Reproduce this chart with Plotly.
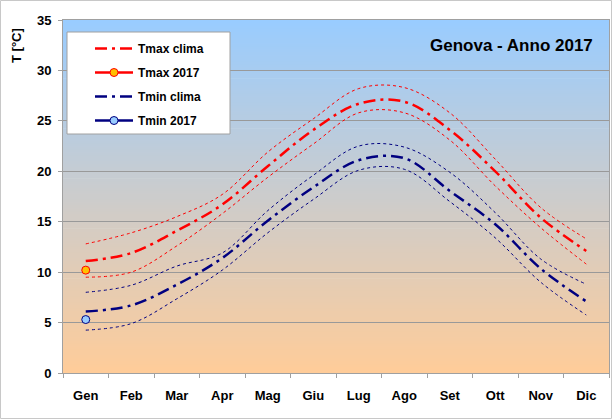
import plotly.graph_objects as go

months = ["Gen", "Feb", "Mar", "Apr", "Mag", "Giu", "Lug", "Ago", "Set", "Ott", "Nov", "Dic"]

tmax_clima = [11.1, 11.9, 14.1, 16.7, 20.5, 24.1, 26.7, 26.9, 24.1, 20.0, 15.4, 12.1]
tmax_clima_up = [12.8, 13.9, 15.5, 17.7, 21.9, 25.2, 28.2, 28.3, 25.8, 21.2, 16.4, 13.3]
tmax_clima_lo = [9.5, 10.0, 12.6, 15.8, 19.4, 22.7, 25.8, 25.8, 23.1, 18.55, 14.4, 10.8]

tmin_clima = [6.1, 6.7, 8.75, 11.4, 15.1, 18.4, 21.1, 21.3, 18.05, 14.75, 10.35, 7.1]
tmin_clima_up = [8.0, 8.7, 10.6, 11.9, 16.1, 19.6, 22.5, 22.4, 19.9, 15.9, 11.3, 8.8]
tmin_clima_lo = [4.25, 4.9, 7.35, 10.2, 13.9, 17.2, 20.1, 20.2, 17.0, 13.4, 9.0, 5.75]

tmax_2017 = [10.2] + [None] * 11
tmin_2017 = [5.3] + [None] * 11

RED = "#FF0000"
NAVY = "#000080"
FONT = "Liberation Sans, Arial, sans-serif"

fig = go.Figure()

def band(y, color, name):
    fig.add_trace(go.Scatter(x=months, y=y, mode="lines", name=name, showlegend=False,
                             line=dict(color=color, width=1, dash="dot", shape="spline", smoothing=1.0),
                             hoverinfo="skip"))

band(tmax_clima_up, RED, "Tmax clima sup")
band(tmax_clima_lo, RED, "Tmax clima inf")
band(tmin_clima_up, NAVY, "Tmin clima sup")
band(tmin_clima_lo, NAVY, "Tmin clima inf")

fig.add_trace(go.Scatter(x=months, y=tmax_clima, mode="lines", name="Tmax clima", legendgroup="a",
                         line=dict(color=RED, width=2.5, dash="12px,5px,3px,5px", shape="spline", smoothing=1.0)))
fig.add_trace(go.Scatter(x=months, y=tmax_2017, mode="lines+markers", name="Tmax 2017", legendgroup="b",
                         line=dict(color=RED, width=2.5),
                         marker=dict(size=8, color="#FFC000", line=dict(color=RED, width=1))))
fig.add_trace(go.Scatter(x=months, y=tmin_clima, mode="lines", name="Tmin clima", legendgroup="c",
                         line=dict(color=NAVY, width=2.5, dash="12px,5px,3px,5px", shape="spline", smoothing=1.0)))
fig.add_trace(go.Scatter(x=months, y=tmin_2017, mode="lines+markers", name="Tmin 2017", legendgroup="d",
                         line=dict(color=NAVY, width=2.5),
                         marker=dict(size=8, color="#99CCFF", line=dict(color=NAVY, width=1))))

PW, PH = 546.0, 353.0

# vertical gradient background of the plot area
shapes = []
N = 120
top = (153, 204, 255)
bot = (255, 204, 153)
for i in range(N):
    f = (i + 0.5) / N
    c = tuple(round(bot[k] + (top[k] - bot[k]) * f) for k in range(3))
    shapes.append(dict(type="rect", xref="paper", yref="paper", x0=0, x1=1,
                       y0=i / N, y1=(i + 1) / N + 0.002, line=dict(width=0),
                       fillcolor="rgb(%d,%d,%d)" % c, layer="below"))
# legend box
shapes.append(dict(type="rect", xref="paper", yref="paper",
                   x0=4 / PW, x1=167 / PW, y0=(373 - 134) / PH, y1=(373 - 32) / PH,
                   line=dict(color="#A0A0A0", width=1), fillcolor="white", layer="above"))
# outer chart border
shapes.append(dict(type="rect", xref="paper", yref="paper",
                   x0=-62.5 / PW, x1=1 + 2.5 / PW, y0=-45.5 / PH, y1=1 + 19.5 / PH,
                   line=dict(color="#C8C8C8", width=1), fillcolor="rgba(0,0,0,0)", layer="above"))

fig.update_layout(
    width=612, height=419,
    margin=dict(l=63, r=3, t=20, b=46),
    paper_bgcolor="white",
    plot_bgcolor="rgba(0,0,0,0)",
    font=dict(family=FONT, size=12, color="black"),
    shapes=shapes,
    showlegend=True,
    legend=dict(x=27 / PW, y=(373 - 34) / PH, xanchor="left", yanchor="top",
                bgcolor="rgba(0,0,0,0)", borderwidth=0,
                font=dict(family=FONT, size=12, color="black", weight="bold"),
                itemwidth=38, tracegroupgap=5, traceorder="grouped"),
    annotations=[
        dict(text="<b>Genova - Anno 2017</b>", xref="paper", yref="paper",
             x=(511.5 - 63) / PW, y=(373 - 46) / PH, xanchor="center", yanchor="middle",
             showarrow=False, font=dict(family=FONT, size=17, color="black")),
        dict(text="<b>T [°C]</b>", xref="paper", yref="paper",
             x=-46 / PW, y=(373 - 46) / PH, xanchor="center", yanchor="middle",
             textangle=-90, showarrow=False, font=dict(family=FONT, size=13, color="black")),
    ],
)

fig.update_xaxes(type="category", range=[-0.5, 11.5], showgrid=False,
                 tickson="boundaries", ticks="outside", ticklen=4, tickcolor="#A0A0A0",
                 showline=True, linecolor="#A0A0A0", linewidth=1, mirror=True,
                 tickfont=dict(family=FONT, size=13, color="black", weight="bold"),
                 ticklabelstandoff=10)
fig.update_yaxes(range=[0, 35], dtick=5, showgrid=True, gridcolor="#999999", gridwidth=1,
                 ticks="outside", ticklen=4, tickcolor="#A0A0A0", zeroline=False,
                 showline=True, linecolor="#A0A0A0", linewidth=1, mirror=True,
                 tickfont=dict(family=FONT, size=13, color="black", weight="bold"),
                 ticklabelstandoff=4)

fig.write_html("out.html", config={"displayModeBar": False},
               post_script="document.body.style.margin='0px';")
